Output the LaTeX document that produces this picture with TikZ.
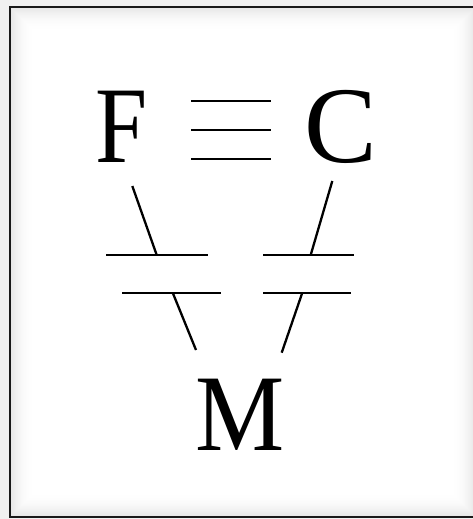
\documentclass[tikz,border=0pt]{standalone}
\usepackage{fontspec}
\setmainfont{Liberation Serif}
\begin{document}
\begin{tikzpicture}[x=1pt,y=-1pt,
  letter/.style={inner sep=0pt, anchor=base, font=\fontsize{109}{120}\selectfont},
  bond/.style={line width=2.3pt, black},
  plate/.style={line width=2.3pt, black},
  eqbar/.style={line width=2pt, black}]
\useasboundingbox (0,0) rectangle (473,519);
\clip (0,0) rectangle (473,519);
% background and framed panel with inner shadow
\fill[black!6] (0,0) rectangle (473,519);
\fill[white] (10,7) rectangle (473,517);
\foreach \k in {0,...,23}{
  \pgfmathsetmacro\p{10*(1-\k/24)^2}
  \draw[black!\p, line width=1.1pt] (10.5+\k,7.5+\k) -- (10.5+\k,516.5-\k) -- (475.5-\k,516.5-\k) -- (475.5-\k,7.5+\k) -- cycle;
}
\draw[line width=2pt, black!90] (473,7) -- (10,7) -- (10,517) -- (473,517);
% letters
\node[letter] (F) at (121.5,162) {\scalebox{0.86}[1]{F}};
\node[letter] (C) at (341,162) {C};
\node[letter] (M) at (240,450) {\scalebox{0.92}[1]{M}};
% triple bar between F and C
\coordinate (e1l) at (191,100.7); \coordinate (e1r) at (270.7,100.7);
\coordinate (e2l) at (191,130);   \coordinate (e2r) at (270.7,130);
\coordinate (e3l) at (191,159);   \coordinate (e3r) at (270.7,159);
\draw[eqbar] (e1l) -- (e1r);
\draw[eqbar] (e2l) -- (e2r);
\draw[eqbar] (e3l) -- (e3r);
% left capacitor-like link F -- M
\coordinate (la) at (132.3,186);  \coordinate (lb) at (156.7,255);
\coordinate (lp1l) at (106,255);  \coordinate (lp1r) at (208.3,255);
\coordinate (lp2l) at (122.3,292.7); \coordinate (lp2r) at (220.7,292.7);
\coordinate (lc) at (172.7,292.7); \coordinate (ld) at (196,350);
\draw[bond] (la) -- (lb);
\draw[plate] (lp1l) -- (lp1r);
\draw[plate] (lp2l) -- (lp2r);
\draw[bond] (lc) -- (ld);
% right capacitor-like link C -- M
\coordinate (ra) at (332.3,181);  \coordinate (rb) at (310.7,255);
\coordinate (rp1l) at (263.3,255); \coordinate (rp1r) at (354.3,255);
\coordinate (rp2l) at (263.3,292.7); \coordinate (rp2r) at (351,292.7);
\coordinate (rc) at (302.3,292.7); \coordinate (rd) at (281.7,352.7);
\draw[bond] (ra) -- (rb);
\draw[plate] (rp1l) -- (rp1r);
\draw[plate] (rp2l) -- (rp2r);
\draw[bond] (rc) -- (rd);
\end{tikzpicture}
\end{document}
